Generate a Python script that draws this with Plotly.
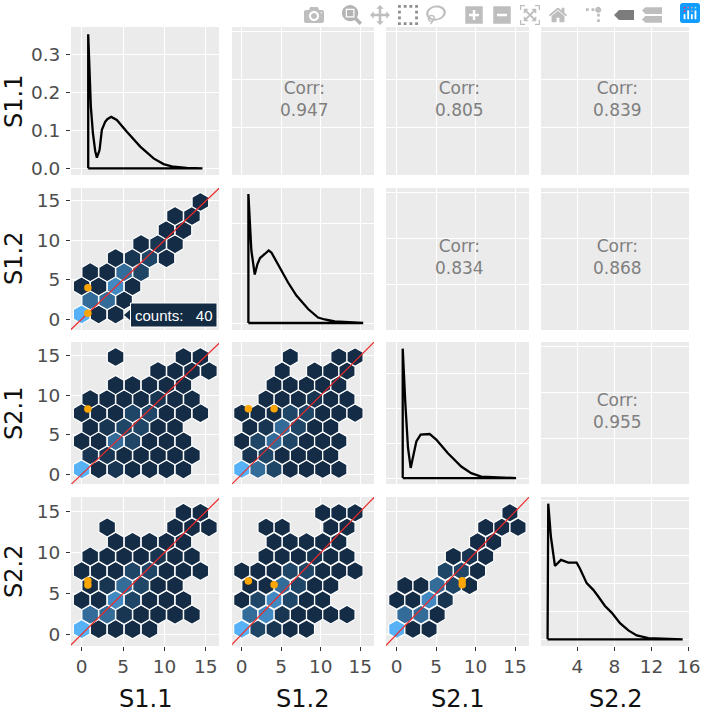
import plotly.graph_objects as go

VARS = ["S1.1", "S1.2", "S2.1", "S2.2"]
CORR = {(0, 1): "0.947", (0, 2): "0.805", (0, 3): "0.839",
        (1, 2): "0.834", (1, 3): "0.868", (2, 3): "0.955"}

# hexbin centres
BIN_X = [0.0, 1.03, 2.05, 3.08, 4.1, 5.13, 6.15, 7.18, 8.2, 9.23, 10.25, 11.28, 12.3, 13.33, 14.35, 15.38]
BIN_Y = [0.63, 2.41, 4.19, 5.97, 7.75, 9.53, 11.31, 13.09, 14.87]

D, S, M, H, B, L = 40, 300, 800, 1900, 2800, 4000
# per panel: row index -> (column indices, counts)
HEX_S12_S11 = {
    0: ([0, 2, 4], [L, D, D]),
    1: ([1, 3, 5], [H, H, D]),
    2: ([0, 2, 4, 6], [D, D, B, D]),
    3: ([1, 3, 5, 7], [D, D, H, M]),
    4: ([4, 6, 8, 10], [D, S, M, D]),
    5: ([7, 9, 11], [D, S, D]),
    6: ([10, 12], [D, D]),
    7: ([11, 13], [D, D]),
    8: ([14], [D]),
}
HEX_S21_S11 = {
    0: ([0, 2, 4, 6, 8, 10, 12], [L, D, S, D, D, D, D]),
    1: ([1, 3, 5, 7, 9, 11, 13], [S, S, D, D, D, D, D]),
    2: ([0, 2, 4, 6, 8, 10, 12], [D, D, H, M, D, D, D]),
    3: ([1, 3, 5, 7, 9, 11], [D, S, M, M, D, D]),
    4: ([0, 2, 4, 6, 8, 10, 12, 14], [D, D, D, M, M, D, D, D]),
    5: ([1, 3, 5, 7, 9, 11, 13], [D, D, D, D, S, D, D]),
    6: ([4, 6, 8, 10, 12], [D, D, D, D, D]),
    7: ([9, 11, 13, 15], [D, D, D, D]),
    8: ([4, 12, 14], [D, D, D]),
}
HEX_S22_S11 = {
    0: ([0, 2, 4, 6, 8], [L, D, D, D, D]),
    1: ([1, 3, 5, 7, 9, 11, 13], [H, H, S, D, D, D, D]),
    2: ([0, 2, 4, 6, 8, 10, 12], [D, D, B, M, D, D, D]),
    3: ([1, 3, 5, 7, 9, 11], [D, S, H, M, D, D]),
    4: ([0, 2, 4, 6, 8, 10, 12, 14], [D, D, D, M, M, D, D, D]),
    5: ([1, 3, 5, 7, 9, 11, 13], [D, D, D, D, S, D, D]),
    6: ([4, 6, 8, 10, 12], [D, D, D, D, D]),
    7: ([3, 11, 13, 15], [D, D, D, D]),
    8: ([12, 14], [D, D]),
}
HEX_S21_S12 = {
    0: ([0, 2, 4, 6, 8, 10, 12], [L, H, M, D, D, D, D]),
    1: ([1, 3, 5, 7, 9, 11], [S, M, D, D, D, D]),
    2: ([0, 2, 4, 6, 8, 10, 12], [D, M, H, M, D, D, D]),
    3: ([1, 3, 5, 7, 9, 11], [D, S, H, M, D, D]),
    4: ([0, 2, 4, 6, 8, 10, 12, 14], [D, D, D, M, M, D, D, D]),
    5: ([3, 5, 7, 9, 11, 13], [D, D, D, S, D, D]),
    6: ([4, 6, 8, 10, 12], [D, D, D, D, D]),
    7: ([5, 9, 11, 13], [D, D, D, D]),
    8: ([6, 12, 14], [D, D, D]),
}
HEX_S22_S12 = {
    0: ([0, 2, 4, 6, 8], [L, M, S, D, D]),
    1: ([1, 3, 5, 7, 9, 11, 13], [H, B, S, D, D, D, D]),
    2: ([0, 2, 4, 6, 8, 10], [D, M, B, M, D, D]),
    3: ([1, 3, 5, 7, 9, 11], [D, D, H, M, D, D]),
    4: ([0, 2, 4, 6, 8, 10, 12, 14], [D, D, D, M, M, D, D, D]),
    5: ([3, 5, 7, 9, 11, 13], [D, D, D, S, D, D]),
    6: ([4, 6, 8, 10, 12], [D, D, D, D, D]),
    7: ([3, 5, 11, 13], [D, D, D, D]),
    8: ([10, 12, 14], [D, D, D]),
}
HEX_S22_S21 = {
    0: ([0, 2, 4], [L, D, D]),
    1: ([1, 3, 5], [H, H, D]),
    2: ([0, 2, 4, 6], [D, D, B, S]),
    3: ([1, 3, 5, 7, 9], [D, D, H, M, D]),
    4: ([6, 8, 10], [M, M, D]),
    5: ([7, 9, 11], [D, S, D]),
    6: ([10, 12], [D, D]),
    7: ([11, 13, 15], [D, D, D]),
    8: ([14], [D]),
}
HEX_PANELS = {(1, 0): HEX_S12_S11, (2, 0): HEX_S21_S11, (3, 0): HEX_S22_S11,
              (2, 1): HEX_S21_S12, (3, 1): HEX_S22_S12, (3, 2): HEX_S22_S21}

# highlighted points
OUT_X = {(1, 0): [0.75, 0.75], (2, 0): [0.75], (3, 0): [0.75, 0.75],
         (2, 1): [0.84, 4.1], (3, 1): [0.84, 4.1], (3, 2): [8.3, 8.3]}
OUT_Y = {(1, 0): [4.0, 0.76], (2, 0): [8.27], (3, 0): [6.56, 6.03],
         (2, 1): [8.3, 8.3], (3, 1): [6.52, 6.07], (3, 2): [6.55, 6.05]}

# densities
DENS_X = [
    [0.79, 0.79, 1.11, 1.36, 1.64, 1.84, 2.16, 2.44, 2.84, 3.1, 3.57, 4.25, 5.46, 7.08, 8.69, 9.9, 11.1, 12.7, 14.6, 0.79],
    [0.845, 0.845, 1.22, 1.65, 1.99, 2.32, 2.92, 3.42, 3.76, 5.03, 5.87, 6.93, 8.41, 9.67, 10.52, 11.79, 13.48, 15.38, 0.845],
    [0.76, 0.76, 1.10, 1.43, 1.77, 2.15, 2.49, 3.03, 4.17, 5.01, 6.49, 8.18, 9.44, 10.7, 12.39, 15.13, 0.76],
    [0.8, 0.87, 1.16, 1.59, 2.24, 3.03, 3.93, 4.29, 5.01, 5.72, 6.26, 6.98, 7.7, 8.6, 9.5, 10.4, 11.65, 13.09, 15.35, 0.8],
]
DENS_Y = [
    [0, 0.352, 0.162, 0.092, 0.045, 0.028, 0.048, 0.101, 0.122, 0.129, 0.135, 0.127, 0.096, 0.057, 0.026, 0.011, 0.004, 0.001, 0, 0],
    [0, 0.258, 0.145, 0.097, 0.118, 0.13, 0.138, 0.145, 0.141, 0.105, 0.081, 0.055, 0.028, 0.011, 0.007, 0.003, 0.001, 0, 0],
    [0, 0.37, 0.21, 0.086, 0.029, 0.067, 0.105, 0.124, 0.126, 0.11, 0.071, 0.033, 0.014, 0.004, 0.002, 0, 0],
    [0, 0.244, 0.184, 0.132, 0.143, 0.138, 0.138, 0.127, 0.101, 0.089, 0.077, 0.06, 0.048, 0.029, 0.016, 0.007, 0.002, 0.001, 0, 0],
]
DENS_YTICKS = [[0, 0.1, 0.2, 0.3], [0, 0.1, 0.2], [0, 0.1, 0.2, 0.3], [0, 0.05, 0.1, 0.15, 0.2, 0.25]]
DENS_YLABELS = ["0.0", "0.1", "0.2", "0.3"]
DENS_YRANGE = [[-0.0176, 0.371], [-0.014, 0.27], [-0.017, 0.389], [-0.012, 0.256]]

XTICKS = [[0, 5, 10, 15], [0, 5, 10, 15], [0, 5, 10, 15], [4, 8, 12, 16]]
XRANGE = [[-1.29, 16.6], [-1.23, 16.75], [-1.36, 16.77], [0.09, 16.03]]
YRANGE = [None, [-1.36, 16.64], [-1.23, 16.77], [-1.43, 16.8]]
YTICKS = [0, 5, 10, 15]
REF_LINE = [-3, 20]

PX = [(71, 219), (232, 374), (386, 529), (541, 689)]
PY = [(27, 175), (188, 330), (342, 484), (497, 646)]
W, H_ = 706, 710
FONT = "DejaVu Sans"
HEX_SIZE = {0: 19.2, 1: 18.6, 2: 18.6}


def fx(p):
    return p / W


def fy(p):
    return 1 - p / H_


fig = go.Figure()
layout = {}
for r in range(4):
    for c in range(4):
        n = r * 4 + c + 1
        xn = "x" if n == 1 else f"x{n}"
        yn = "y" if n == 1 else f"y{n}"
        xk = "xaxis" if n == 1 else f"xaxis{n}"
        yk = "yaxis" if n == 1 else f"yaxis{n}"
        common = dict(showgrid=True, gridcolor="white", gridwidth=1.3, zeroline=False, showline=False,
                      ticklen=4, tickwidth=1, tickcolor="#333333", tickfont=dict(family=FONT, size=18.5, color="#4d4d4d"))
        layout[xk] = dict(common, domain=[fx(PX[c][0]), fx(PX[c][1])], anchor=yn, range=XRANGE[c],
                          tickmode="array", tickvals=XTICKS[c], ticktext=[str(v) for v in XTICKS[c]],
                          showticklabels=r == 3, ticks="outside" if r == 3 else "")
        if r < c:
            yr, yt, yl = [0, 15.48], [5, 10, 15], ["", "", ""]
        elif r == c:
            yr, yt = DENS_YRANGE[r], DENS_YTICKS[r]
            yl = DENS_YLABELS if r == 0 else [""] * len(yt)
        else:
            yr, yt, yl = YRANGE[r], YTICKS, [str(v) for v in YTICKS]
        layout[yk] = dict(common, domain=[fy(PY[r][1]), fy(PY[r][0])], anchor=xn, range=yr,
                          tickmode="array", tickvals=yt, ticktext=yl, ticklabelstandoff=2,
                          showticklabels=c == 0, ticks="outside" if c == 0 else "")
        if r < c:
            fig.add_trace(go.Scatter(x=[None], y=[None], mode="lines", xaxis=xn, yaxis=yn, showlegend=False, hoverinfo="skip"))
            fig.add_annotation(xref=f"{xn} domain", yref=f"{yn} domain", x=0.514, y=0.512, showarrow=False,
                               xanchor="center", yanchor="middle",
                               text=f"Corr:<br>{CORR[(r, c)]}", font=dict(family=FONT, size=17, color="#7f7f7f"))
        elif r == c:
            fig.add_trace(go.Scatter(x=DENS_X[r], y=DENS_Y[r], mode="lines", xaxis=xn, yaxis=yn,
                                     line=dict(color="black", width=2.3), showlegend=False, hoverinfo="skip"))
        else:
            panel = HEX_PANELS[(r, c)]
            hx, hy, hc = [], [], []
            for j, (cols, counts) in panel.items():
                for i, cnt in zip(cols, counts):
                    hx.append(BIN_X[i])
                    hy.append(BIN_Y[j])
                    hc.append(cnt)
            fig.add_trace(go.Scatter(x=hx, y=hy, mode="markers", xaxis=xn, yaxis=yn, showlegend=False,
                                     marker=dict(symbol="hexagon", size=HEX_SIZE[c], color=hc, cmin=0, cmax=L,
                                                 colorscale=[[0, "#132B43"], [1, "#56B1F7"]],
                                                 line=dict(color="white", width=1.2), showscale=False),
                                     hovertemplate="counts: %{marker.color}<extra></extra>"))
            fig.add_trace(go.Scatter(x=REF_LINE, y=REF_LINE, mode="lines", xaxis=xn, yaxis=yn, showlegend=False,
                                     line=dict(color="#f02a2a", width=1.2), hoverinfo="skip"))
            fig.add_trace(go.Scatter(x=OUT_X[(r, c)], y=OUT_Y[(r, c)], mode="markers", xaxis=xn, yaxis=yn,
                                     showlegend=False, marker=dict(color="#FFA500", size=7.5), hoverinfo="skip"))

XT_POS = [145, 302, 457, 615]
YT_POS = [102, 259, 414, 572]
for i, v in enumerate(VARS):
    fig.add_annotation(xref="paper", yref="paper", x=fx(XT_POS[i]), y=fy(699), text=v, showarrow=False, height=20,
                       borderpad=0, xanchor="center", yanchor="middle", font=dict(family=FONT, size=24, color="#111111"))
    fig.add_annotation(xref="paper", yref="paper", x=fx(14), y=fy(YT_POS[i]), text=v, showarrow=False, textangle=-90,
                       xanchor="center", yanchor="middle", font=dict(family=FONT, size=24, color="#111111"))

# static hover label
fig.add_shape(type="path", xref="paper", yref="paper", layer="above",
              path=f"M {fx(124)} {fy(315)} L {fx(131)} {fy(309)} L {fx(131)} {fy(321)} Z",
              fillcolor="#132B43", line=dict(width=0))
fig.add_shape(type="rect", xref="paper", yref="paper", layer="above",
              x0=fx(130.5), x1=fx(217), y0=fy(327), y1=fy(303), fillcolor="#132B43", line=dict(color="white", width=1))
fig.add_annotation(xref="paper", yref="paper", x=fx(173.5), y=fy(315), showarrow=False,
                   xanchor="center", yanchor="middle",
                   text="counts:\u00a0\u00a0 40", font=dict(family="Liberation Sans", size=15, color="white"))

fig.update_layout(width=W, height=H_, margin=dict(l=0, r=0, t=0, b=0, autoexpand=False), paper_bgcolor="white",
                  plot_bgcolor="#EBEBEB", showlegend=False, hovermode="closest",
                  modebar=dict(bgcolor="rgba(0,0,0,0)", color="rgba(68,68,68,0.35)", activecolor="rgba(68,68,68,0.7)"),
                  **layout)

POST = """
document.body.style.margin='0';document.body.style.overflow='hidden';
var st=document.createElement('style');
st.textContent='.modebar-btn{font-size:20px !important;} .modebar-group{padding-left:10px !important;}'
 +'.modebar-btn[data-val="zoom"] path{fill:rgba(68,68,68,0.4) !important;}'
 +'.modebar-btn[data-val="select"] path{fill:rgba(68,68,68,0.6) !important;}';
document.head.appendChild(st);
var lg=document.querySelector('.modebar-btn--logo svg');
if(lg){var rc=lg.querySelector('rect'); if(rc){rc.style.fill='#119DFF';}}
"""
fig.write_html("out.html",
               config=dict(displayModeBar=True, displaylogo=True,
                           modeBarButtonsToAdd=["select2d", "lasso2d", "togglespikelines", "v1hovermode"]),
               post_script=POST)
